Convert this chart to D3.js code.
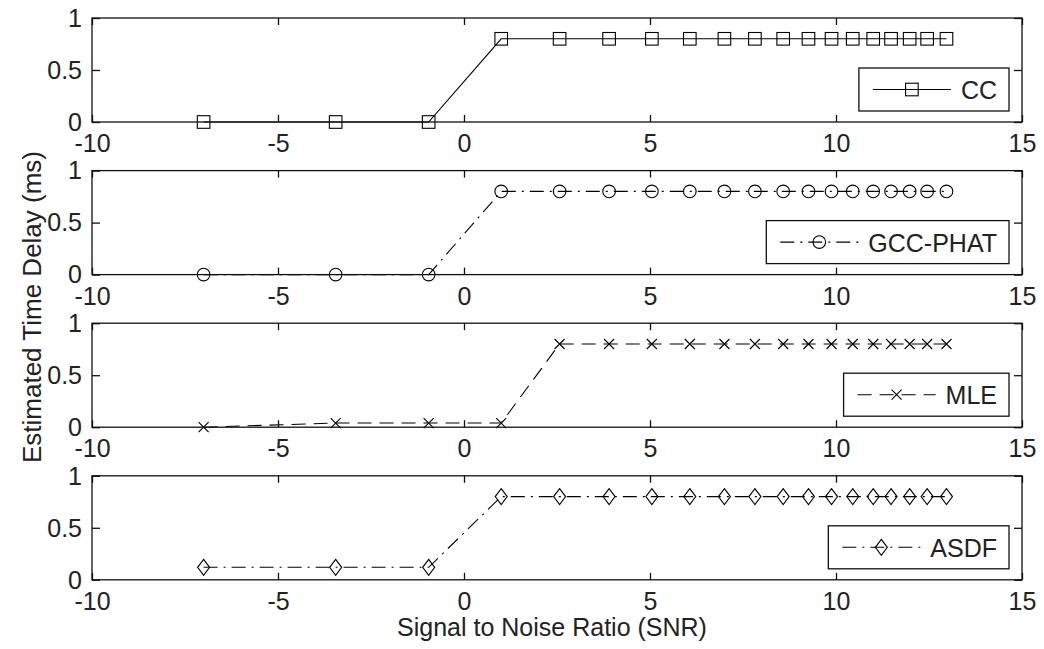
<!DOCTYPE html>
<html>
<head>
<meta charset="utf-8">
<script src="https://cdn.jsdelivr.net/npm/d3@7"></script>
<style>
  html, body { margin: 0; padding: 0; background: #fff; }
  svg { display: block; }
  text { font-family: "Liberation Sans", Arial, sans-serif; fill: #222; }
</style>
</head>
<body>
<svg id="chart" width="1044" height="649"></svg>
<script>
// SNR values (dB) at which the delay was estimated
const snr = [-7, -3.45, -0.95, 1.0, 2.57, 3.9, 5.05, 6.07, 7.0, 7.82, 8.58, 9.26, 9.88, 10.45, 11.0, 11.48, 11.98, 12.45, 12.97];

// Estimated time delay (ms) per method
const ccDelay   = [0, 0, 0, 0.8, 0.8, 0.8, 0.8, 0.8, 0.8, 0.8, 0.8, 0.8, 0.8, 0.8, 0.8, 0.8, 0.8, 0.8, 0.8];
const gccDelay  = [0, 0, 0, 0.8, 0.8, 0.8, 0.8, 0.8, 0.8, 0.8, 0.8, 0.8, 0.8, 0.8, 0.8, 0.8, 0.8, 0.8, 0.8];
const mleDelay  = [0, 0.04, 0.04, 0.04, 0.8, 0.8, 0.8, 0.8, 0.8, 0.8, 0.8, 0.8, 0.8, 0.8, 0.8, 0.8, 0.8, 0.8, 0.8];
const asdfDelay = [0.12, 0.12, 0.12, 0.8, 0.8, 0.8, 0.8, 0.8, 0.8, 0.8, 0.8, 0.8, 0.8, 0.8, 0.8, 0.8, 0.8, 0.8, 0.8];

const methodNames = ["CC", "GCC-PHAT", "MLE", "ASDF"];
const markerKinds = ["square", "circle", "cross", "diamond"];
const dashStyles  = [null, "14,6,2,6", "14,8", "14,6,2,6"];

// Axis ticks
const xTicks = [-10, -5, 0, 5, 10, 15];
const yTicks = [0, 0.5, 1];
const yTickLabels = ["0", "0.5", "1"];

const xLabel = "Signal to Noise Ratio (SNR)";
const yLabel = "Estimated Time Delay (ms)";

const series = [ccDelay, gccDelay, mleDelay, asdfDelay];

const svg = d3.select("#chart");
const FONT = 25;
const left = 92, right = 1022;
const panelTops = [18, 170.6, 323.2, 475.8];
const panelH = 104;

const x = d3.scaleLinear().domain([-10, 15]).range([left, right]);

function drawMarker(g, kind, cx, cy) {
  const common = s => s.attr("fill", "none").attr("stroke", "#000").attr("stroke-width", 1.1);
  if (kind === "square") {
    common(g.append("rect").attr("x", cx - 6.3).attr("y", cy - 6.3).attr("width", 12.6).attr("height", 12.6));
  } else if (kind === "circle") {
    common(g.append("circle").attr("cx", cx).attr("cy", cy).attr("r", 6.3));
  } else if (kind === "cross") {
    common(g.append("path").attr("d", `M${cx-5},${cy-5}L${cx+5},${cy+5}M${cx-5},${cy+5}L${cx+5},${cy-5}`));
  } else if (kind === "diamond") {
    common(g.append("path").attr("d", `M${cx},${cy-8}L${cx+6},${cy}L${cx},${cy+8}L${cx-6},${cy}Z`));
  }
}

series.forEach((vals, i) => {
  const top = panelTops[i];
  const bottom = top + panelH;
  const y = d3.scaleLinear().domain([0, 1]).range([bottom, top]);
  const g = svg.append("g");

  // plot data line
  const line = d3.line().x(d => x(d[0])).y(d => y(d[1]));
  const pts = snr.map((s, k) => [s, vals[k]]);
  const path = g.append("path")
    .attr("d", line(pts))
    .attr("fill", "none")
    .attr("stroke", "#000")
    .attr("stroke-width", 1.1);
  if (dashStyles[i]) path.attr("stroke-dasharray", dashStyles[i]);

  pts.forEach(p => drawMarker(g, markerKinds[i], x(p[0]), y(p[1])));

  // axes box
  g.append("rect")
    .attr("x", left).attr("y", top)
    .attr("width", right - left).attr("height", panelH)
    .attr("fill", "none").attr("stroke", "#111").attr("stroke-width", 1.3);

  // bottom axis (ticks inside, labels below)
  const xAxis = d3.axisBottom(x).tickValues(xTicks).tickSize(-7).tickSizeOuter(0).tickPadding(0).tickFormat(d3.format("d"));
  const xa = g.append("g").attr("transform", `translate(0,${bottom})`).call(xAxis);
  xa.select(".domain").remove();
  xa.selectAll("line").attr("stroke", "#111").attr("stroke-width", 1.3);
  xa.selectAll("text")
    .attr("y", 30).attr("dy", null)
    .attr("font-size", FONT).attr("font-family", null).attr("fill", "#222")
    .text(d => d < 0 ? "-" + Math.abs(d) : String(d));

  // top ticks
  const xTop = d3.axisTop(x).tickValues(xTicks).tickSize(-7).tickSizeOuter(0).tickFormat("");
  const xt = g.append("g").attr("transform", `translate(0,${top})`).call(xTop);
  xt.select(".domain").remove();
  xt.selectAll("line").attr("stroke", "#111").attr("stroke-width", 1.3);

  // left axis
  const yAxis = d3.axisLeft(y).tickValues(yTicks).tickSize(-8).tickSizeOuter(0).tickPadding(10)
    .tickFormat((d, k) => yTickLabels[k]);
  const ya = g.append("g").attr("transform", `translate(${left},0)`).call(yAxis);
  ya.select(".domain").remove();
  ya.selectAll("line").attr("stroke", "#111").attr("stroke-width", 1.3);
  ya.selectAll("text").attr("x", -10).attr("dy", "0.33em")
    .attr("font-size", FONT).attr("font-family", null).attr("fill", "#222");

  // right ticks
  const yRight = d3.axisRight(y).tickValues(yTicks).tickSize(-8).tickSizeOuter(0).tickFormat("");
  const yr = g.append("g").attr("transform", `translate(${right},0)`).call(yRight);
  yr.select(".domain").remove();
  yr.selectAll("line").attr("stroke", "#111").attr("stroke-width", 1.3);

  // legend
  const leg = g.append("g");
  const boxH = 43;
  const boxBottom = bottom - 11;
  const boxTop = boxBottom - boxH;
  const midY = boxTop + boxH / 2;
  const lineLen = 78;
  const txt = leg.append("text")
    .attr("font-size", FONT)
    .attr("dy", "0.35em")
    .attr("y", midY + 1)
    .text(methodNames[i]);
  const tw = txt.node().getComputedTextLength();
  const boxRight = right - 13;
  const textX = boxRight - 12 - tw;
  txt.attr("x", textX);
  const lineEnd = textX - 10;
  const lineStart = lineEnd - lineLen;
  const boxLeft = lineStart - 14;
  leg.insert("rect", "text")
    .attr("x", boxLeft).attr("y", boxTop)
    .attr("width", boxRight - boxLeft).attr("height", boxH)
    .attr("fill", "#fff").attr("stroke", "#111").attr("stroke-width", 1.3);
  const sample = leg.append("line")
    .attr("x1", lineStart).attr("x2", lineEnd)
    .attr("y1", midY).attr("y2", midY)
    .attr("stroke", "#000").attr("stroke-width", 1.1);
  if (dashStyles[i]) sample.attr("stroke-dasharray", dashStyles[i]);
  drawMarker(leg, markerKinds[i], (lineStart + lineEnd) / 2, midY);
});

// axis titles
svg.append("text")
  .attr("x", 552).attr("y", 636)
  .attr("text-anchor", "middle")
  .attr("font-size", FONT)
  .text(xLabel);

svg.append("text")
  .attr("transform", "translate(41,307) rotate(-90)")
  .attr("text-anchor", "middle")
  .attr("font-size", 26)
  .text(yLabel);
</script>
</body>
</html>
